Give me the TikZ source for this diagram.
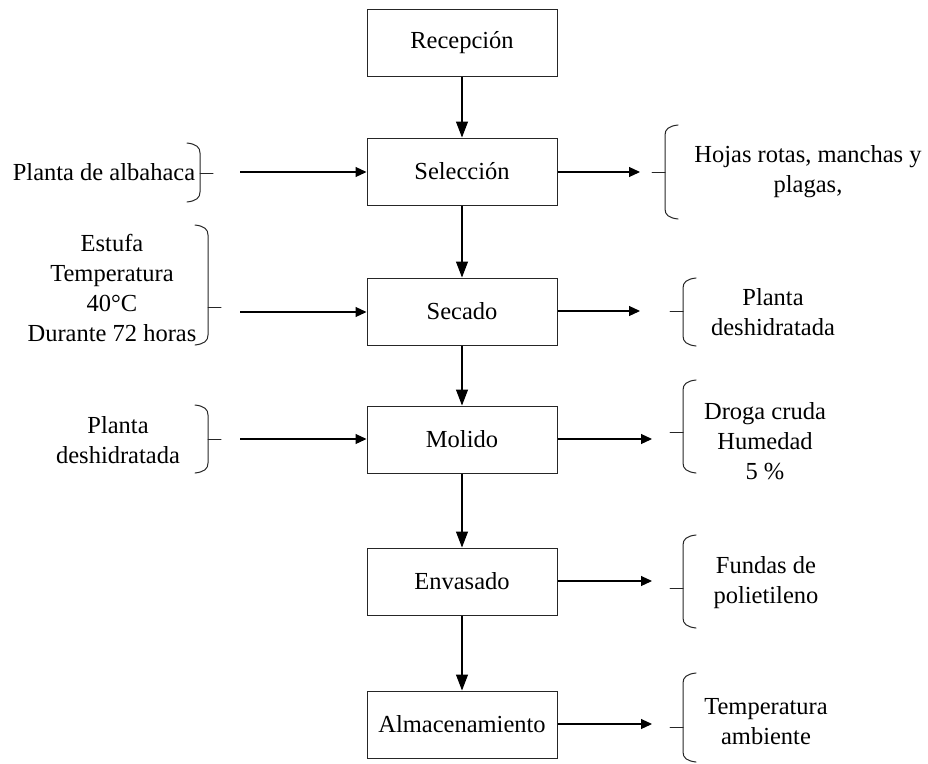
\documentclass[tikz,border=0pt]{standalone}
\usepackage{fontspec}
\setmainfont{Liberation Serif}
\usetikzlibrary{arrows.meta}
\newcommand\BrR[4]{%
  \draw[brk] (#1+13,#2) .. controls (#1+4,#2+1) and (#1,#2+4) .. (#1,#2+10) -- (#1,#3-10) .. controls (#1,#3-4) and (#1+4,#3-1) .. (#1+13,#3);
  \draw[brk] (#1-13,#4) -- (#1,#4);}
\newcommand\BrL[4]{%
  \draw[brk] (#1-13,#2) .. controls (#1-4,#2+1) and (#1,#2+4) .. (#1,#2+10) -- (#1,#3-10) .. controls (#1,#3-4) and (#1-4,#3-1) .. (#1-13,#3);
  \draw[brk] (#1,#4) -- (#1+13,#4);}
\begin{document}
\begin{tikzpicture}[x=1pt,y=-1pt,
  proc/.style={draw=black!85, line width=1pt, minimum width=190pt, minimum height=67pt, inner sep=0pt, font=\fontsize{24.5}{30}\selectfont},
  lbl/.style={align=center, inner sep=0pt, font=\fontsize{24.5}{30}\selectfont},
  flow/.style={-{Triangle[length=16pt,width=12pt]}, line width=1.1pt},
  side/.style={-{Triangle[length=11pt,width=10pt]}, line width=1.1pt},
  brk/.style={line width=1pt, line cap=round, draw=black!85}]
\useasboundingbox (0,0) rectangle (928,763);
% process boxes
\node[proc] (rec) at (462,42.5) {Recepción};
\node[proc] (sel) at (462,171.5) {Selección};
\node[proc] (sec) at (462,311.5) {Secado};
\node[proc] (mol) at (462,439.5) {Molido};
\node[proc] (env) at (462,581.5) {Envasado};
\node[proc] (alm) at (462,724.5) {Almacenamiento};
% vertical flow
\draw[flow] (rec) -- (sel);
\draw[flow] (sel) -- (sec);
\draw[flow] (sec) -- (mol);
\draw[flow] (mol) -- (env);
\draw[flow] (env) -- (alm);
% left labels
\node[lbl] (inA) at (104,172) {Planta de albahaca};
\node[lbl] (inB) at (112,288) {Estufa\\Temperatura\\40°C\\Durante 72 horas};
\node[lbl] (inC) at (118,440) {Planta\\deshidratada};
% right labels
\node[lbl] (outA) at (808,172) {Hojas rotas, manchas y\\plagas,};
\node[lbl] (outB) at (773,312) {Planta\\deshidratada};
\node[lbl] (outC) at (765,441) {Droga cruda\\Humedad\\5 \%};
\node[lbl] (outD) at (766,583) {Fundas de\\polietileno};
\node[lbl] (outE) at (766,722) {Temperatura\\ambiente};
% arrow end points
\coordinate (a1) at (240,172);
\coordinate (a2) at (240,312);
\coordinate (a3) at (240,439);
\coordinate (b1) at (640,172);
\coordinate (b2) at (640,311);
\coordinate (b3) at (652,439);
\coordinate (b4) at (652,581);
\coordinate (b5) at (652,724);
% side arrows
\draw[side] (a1) -- (a1 -| sel.west);
\draw[side] (a2) -- (a2 -| sec.west);
\draw[side] (a3) -- (a3 -| mol.west);
\draw[side] (b1 -| sel.east) -- (b1);
\draw[side] (b2 -| sec.east) -- (b2);
\draw[side] (b3 -| mol.east) -- (b3);
\draw[side] (b4 -| env.east) -- (b4);
\draw[side] (b5 -| alm.east) -- (b5);
% brackets
\BrL{200}{143}{202}{173}
\BrL{208}{225}{345}{307}
\BrL{208}{405}{473}{439}
\BrR{665}{125}{219}{172}
\BrR{683}{278}{346}{311}
\BrR{683}{380}{473}{432}
\BrR{683}{535}{628}{588}
\BrR{683}{673}{762}{727}
\end{tikzpicture}
\end{document}
